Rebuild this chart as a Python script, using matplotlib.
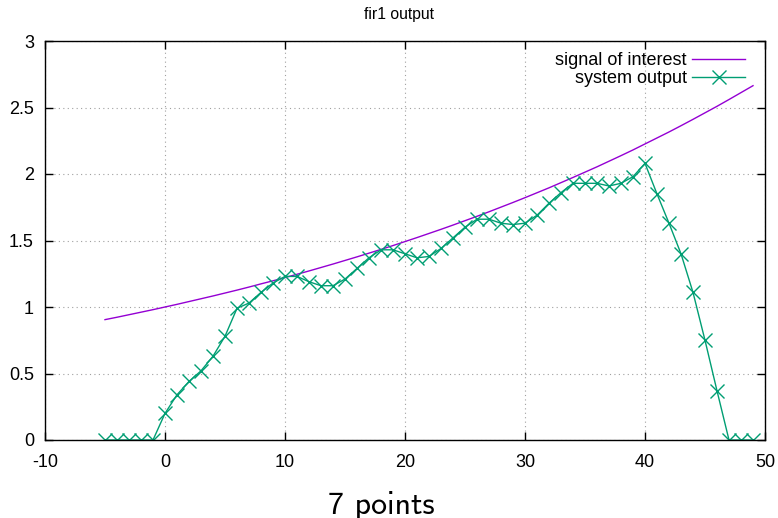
import matplotlib
matplotlib.use("Agg")
import matplotlib.pyplot as plt
import numpy as np

plt.rcParams['font.family'] = ['Liberation Sans', 'DejaVu Sans']

# signal of interest
sig_x = list(range(-5, 50))
sig_y = [0.905, 0.923, 0.942, 0.961, 0.980, 1.000, 1.020, 1.041, 1.062, 1.083,
         1.105, 1.127, 1.150, 1.174, 1.197, 1.221, 1.246, 1.271, 1.297, 1.323,
         1.350, 1.377, 1.405, 1.433, 1.462, 1.492, 1.522, 1.553, 1.584, 1.616,
         1.649, 1.682, 1.716, 1.751, 1.786, 1.822, 1.859, 1.896, 1.935, 1.974,
         2.014, 2.054, 2.096, 2.138, 2.181, 2.226, 2.271, 2.316, 2.363, 2.411,
         2.460, 2.509, 2.560, 2.612, 2.664]

# system output
out_x = list(range(-5, 50))
out_y = [0, 0, 0, 0, 0,
         0.20, 0.34, 0.44, 0.52, 0.63, 0.78, 0.99, 1.03, 1.11, 1.18,
         1.23, 1.23, 1.19, 1.16, 1.16, 1.21, 1.29, 1.37, 1.43, 1.43,
         1.40, 1.37, 1.38, 1.44, 1.52, 1.60, 1.66, 1.66, 1.63, 1.62,
         1.63, 1.69, 1.78, 1.86, 1.93, 1.93, 1.93, 1.91, 1.93, 1.98,
         2.08, 1.85, 1.63, 1.40, 1.11, 0.75, 0.37, 0, 0, 0]

xticks = [-10, 0, 10, 20, 30, 40, 50]
yticks = [0, 0.5, 1, 1.5, 2, 2.5, 3]
ytick_labels = ['0', '0.5', '1', '1.5', '2', '2.5', '3']

fig = plt.figure(figsize=(7.78, 5.18), dpi=100)
ax = fig.add_axes([45/778, 1-440/518, (765-45)/778, (440-41)/518])

ax.plot(sig_x, sig_y, color='#9400d3', lw=1.0, label='signal of interest')
ax.plot(out_x, out_y, color='#009e73', lw=1.0, marker='x', markersize=10.5,
        markeredgewidth=1.0, label='system output')

ax.set_xlim(-10, 50)
ax.set_ylim(0, 3)
ax.set_xticks(xticks)
ax.set_xticklabels([str(t) for t in xticks])
ax.set_yticks(yticks)
ax.set_yticklabels(ytick_labels)
ax.tick_params(direction='in', length=6, width=1, top=True, right=True,
               labelsize=13, colors='black')
ax.tick_params(axis='x', pad=10)
ax.tick_params(axis='y', pad=8)
ax.grid(True, color='#a0a0a0', linestyle=(0, (1, 3)), linewidth=0.8)
for s in ax.spines.values():
    s.set_linewidth(1.0)

leg = ax.legend(loc='upper right', bbox_to_anchor=(0.972, 0.972), frameon=False,
                fontsize=13, markerfirst=False, handlelength=2.9,
                borderaxespad=0, borderpad=0, labelspacing=0.05,
                handletextpad=0.33)
for t in leg.get_texts():
    t.set_ha('right')

fig.text(399/778, 1-15/518, 'fir1 output', ha='center', va='center', fontsize=11.3)
fig.text(381.5/778, 1-505/518, '7 points', ha='center', va='center', fontsize=23,
         family='cmss10')

fig.savefig('out.png', dpi=100)
